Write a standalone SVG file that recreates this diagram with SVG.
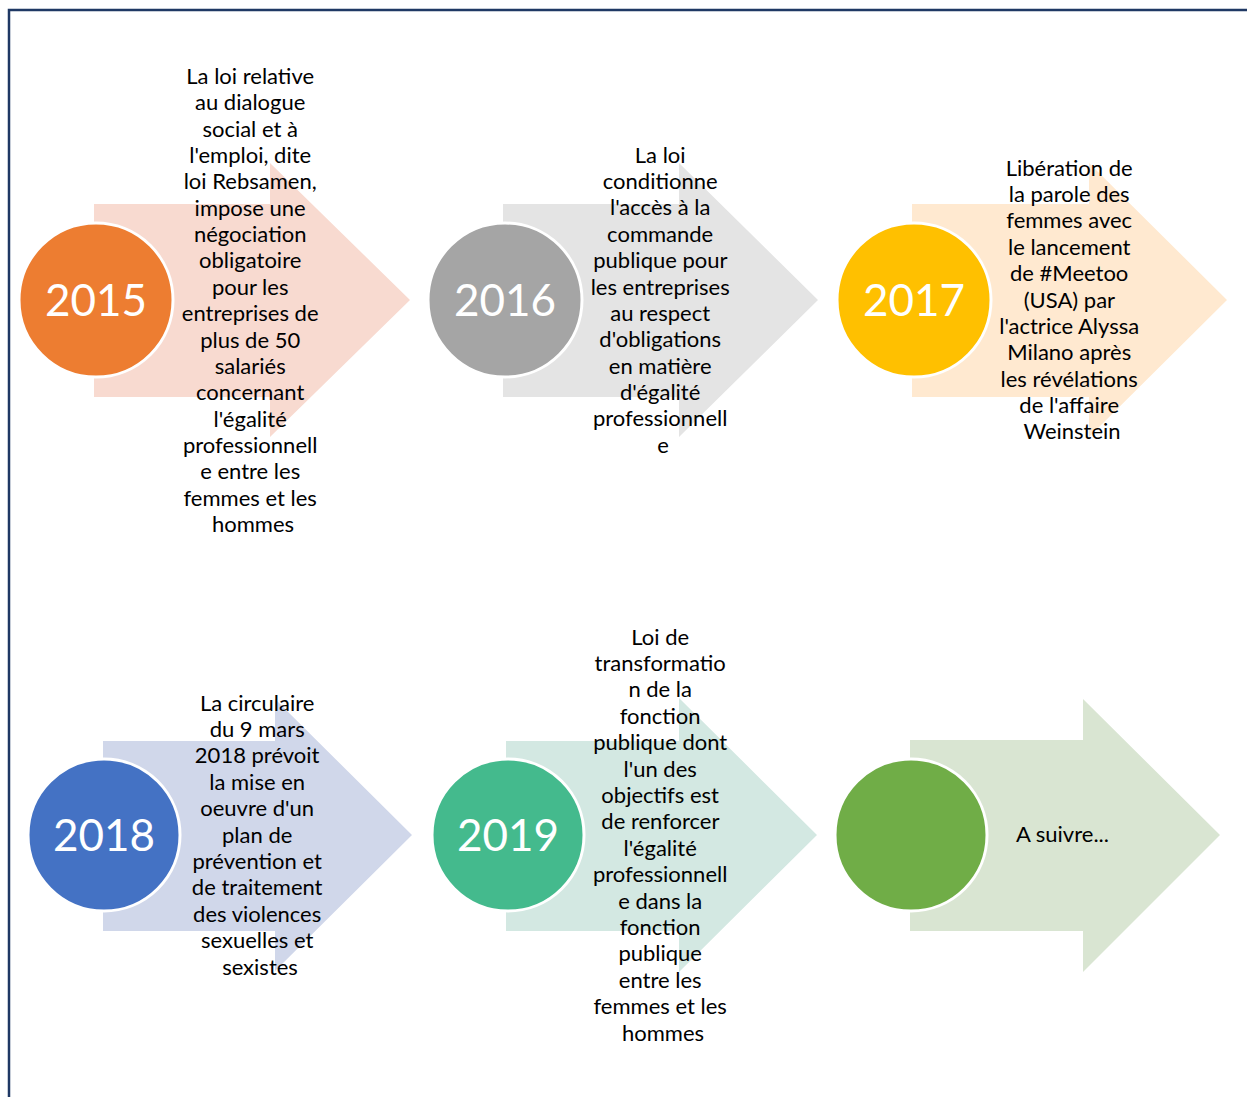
<svg xmlns="http://www.w3.org/2000/svg" width="1247" height="1097" viewBox="0 0 1247 1097">
  <style>
    .yr { font-family: Lato, "Open Sans", sans-serif; font-size: 44px; fill: #ffffff; text-anchor: middle; }
    .lbl { font-family: Lato, "Open Sans", sans-serif; font-size: 22px; fill: #000000; text-anchor: middle; }
    .lbl-left { font-family: Lato, "Open Sans", sans-serif; font-size: 22px; fill: #000000; }
    .dot { stroke: #ffffff; stroke-width: 3; }
  </style>
  <rect width="1247" height="1097" fill="#ffffff"/>
  <!-- frame: only top and left edges fall inside the page -->
  <path d="M9,1097 V10 H1247" fill="none" stroke="#1F3864" stroke-width="2.5"/>

  <g id="step-2015">
    <path d="M94,204 H270 V163 L410,300 L270,437 V397 H94 Z" fill="#F8DAD0"/>
    <circle class="dot" cx="96" cy="300" r="77" fill="#ED7D31"/>
    <text class="yr" x="96" y="316">2015</text>
    <text class="lbl" x="253" y="84">
      <tspan x="253">La loi relative</tspan>
      <tspan x="253" dy="26.35">au dialogue</tspan>
      <tspan x="253" dy="26.35">social et à</tspan>
      <tspan x="253" dy="26.35">l'emploi, dite</tspan>
      <tspan x="253" dy="26.35">loi Rebsamen,</tspan>
      <tspan x="253" dy="26.35">impose une</tspan>
      <tspan x="253" dy="26.35">négociation</tspan>
      <tspan x="253" dy="26.35">obligatoire</tspan>
      <tspan x="253" dy="26.35">pour les</tspan>
      <tspan x="253" dy="26.35">entreprises de</tspan>
      <tspan x="253" dy="26.35">plus de 50</tspan>
      <tspan x="253" dy="26.35">salariés</tspan>
      <tspan x="253" dy="26.35">concernant</tspan>
      <tspan x="253" dy="26.35">l'égalité</tspan>
      <tspan x="253" dy="26.35">professionnell</tspan>
      <tspan x="253" dy="26.35">e entre les</tspan>
      <tspan x="253" dy="26.35">femmes et les</tspan>
      <tspan x="253" dy="26.35">hommes</tspan>
    </text>
  </g>

  <g id="step-2016">
    <path d="M503,204 H679 V163 L818,300 L679,437 V397 H503 Z" fill="#E4E4E4"/>
    <circle class="dot" cx="505" cy="300" r="77" fill="#A5A5A5"/>
    <text class="yr" x="505" y="316">2016</text>
    <text class="lbl" x="663" y="162.5">
      <tspan x="663">La loi</tspan>
      <tspan x="663" dy="26.4">conditionne</tspan>
      <tspan x="663" dy="26.4">l'accès à la</tspan>
      <tspan x="663" dy="26.4">commande</tspan>
      <tspan x="663" dy="26.4">publique pour</tspan>
      <tspan x="663" dy="26.4">les entreprises</tspan>
      <tspan x="663" dy="26.4">au respect</tspan>
      <tspan x="663" dy="26.4">d'obligations</tspan>
      <tspan x="663" dy="26.4">en matière</tspan>
      <tspan x="663" dy="26.4">d'égalité</tspan>
      <tspan x="663" dy="26.4">professionnell</tspan>
      <tspan x="663" dy="26.4">e</tspan>
    </text>
  </g>

  <g id="step-2017">
    <path d="M912,204 H1089 V163 L1227,300 L1089,437 V397 H912 Z" fill="#FFE9D0"/>
    <circle class="dot" cx="914" cy="300" r="77" fill="#FFC000"/>
    <text class="yr" x="914" y="316">2017</text>
    <text class="lbl" x="1072" y="175.5">
      <tspan x="1072">Libération de</tspan>
      <tspan x="1072" dy="26.4">la parole des</tspan>
      <tspan x="1072" dy="26.4">femmes avec</tspan>
      <tspan x="1072" dy="26.4">le lancement</tspan>
      <tspan x="1072" dy="26.4">de #Meetoo</tspan>
      <tspan x="1072" dy="26.4">(USA) par</tspan>
      <tspan x="1072" dy="26.4">l'actrice Alyssa</tspan>
      <tspan x="1072" dy="26.4">Milano après</tspan>
      <tspan x="1072" dy="26.4">les révélations</tspan>
      <tspan x="1072" dy="26.4">de l'affaire</tspan>
      <tspan x="1072" dy="26.4">Weinstein</tspan>
    </text>
  </g>

  <g id="step-2018">
    <path d="M103,741 H275 V699 L412,835 L275,971 V931 H103 Z" fill="#D0D7EA"/>
    <circle class="dot" cx="104" cy="835" r="76" fill="#4472C4"/>
    <text class="yr" x="104" y="851">2018</text>
    <text class="lbl" x="260" y="710.5">
      <tspan x="260">La circulaire</tspan>
      <tspan x="260" dy="26.4">du 9 mars</tspan>
      <tspan x="260" dy="26.4">2018 prévoit</tspan>
      <tspan x="260" dy="26.4">la mise en</tspan>
      <tspan x="260" dy="26.4">oeuvre d'un</tspan>
      <tspan x="260" dy="26.4">plan de</tspan>
      <tspan x="260" dy="26.4">prévention et</tspan>
      <tspan x="260" dy="26.4">de traitement</tspan>
      <tspan x="260" dy="26.4">des violences</tspan>
      <tspan x="260" dy="26.4">sexuelles et</tspan>
      <tspan x="260" dy="26.4">sexistes</tspan>
    </text>
  </g>

  <g id="step-2019">
    <path d="M506,741 H679 V698 L817,835 L679,972 V931 H506 Z" fill="#D3E8E2"/>
    <circle class="dot" cx="508" cy="835" r="76" fill="#44BA8D"/>
    <text class="yr" x="508" y="851">2019</text>
    <text class="lbl" x="663" y="644.5">
      <tspan x="663">Loi de</tspan>
      <tspan x="663" dy="26.4">transformatio</tspan>
      <tspan x="663" dy="26.4">n de la</tspan>
      <tspan x="663" dy="26.4">fonction</tspan>
      <tspan x="663" dy="26.4">publique dont</tspan>
      <tspan x="663" dy="26.4">l'un des</tspan>
      <tspan x="663" dy="26.4">objectifs est</tspan>
      <tspan x="663" dy="26.4">de renforcer</tspan>
      <tspan x="663" dy="26.4">l'égalité</tspan>
      <tspan x="663" dy="26.4">professionnell</tspan>
      <tspan x="663" dy="26.4">e dans la</tspan>
      <tspan x="663" dy="26.4">fonction</tspan>
      <tspan x="663" dy="26.4">publique</tspan>
      <tspan x="663" dy="26.4">entre les</tspan>
      <tspan x="663" dy="26.4">femmes et les</tspan>
      <tspan x="663" dy="26.4">hommes</tspan>
    </text>
  </g>

  <g id="step-next">
    <path d="M910,740 H1083 V699 L1220,835 L1083,972 V931 H910 Z" fill="#D9E5D2"/>
    <circle class="dot" cx="911" cy="835" r="76" fill="#70AD47"/>
    <text class="lbl-left" x="1016" y="842">A suivre...</text>
  </g>
</svg>
